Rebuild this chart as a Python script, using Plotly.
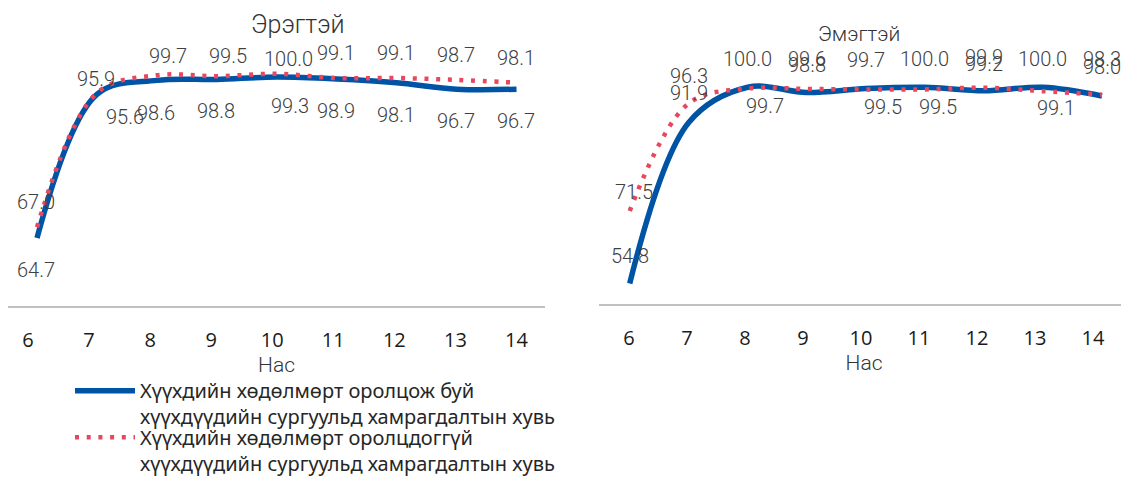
import plotly.graph_objects as go

# ---- data ----
ages = [6, 7, 8, 9, 10, 11, 12, 13, 14]
male_working = [64.7, 95.6, 98.6, 98.8, 99.3, 98.9, 98.1, 96.7, 96.7]
male_not_working = [67.0, 95.9, 99.7, 99.5, 100.0, 99.1, 99.1, 98.7, 98.1]
female_working = [54.8, 91.9, 100.0, 98.8, 99.7, 100.0, 99.2, 100.0, 98.0]
female_not_working = [71.5, 96.3, 99.7, 99.6, 99.5, 99.5, 99.9, 99.1, 98.3]

name_working = "Хүүхдийн хөдөлмөрт оролцож буй<br>хүүхдүүдийн сургуульд хамрагдалтын хувь"
name_not_working = "Хүүхдийн хөдөлмөрт оролцдоггүй<br>хүүхдүүдийн сургуульд хамрагдалтын хувь"
title_male = "Эрэгтэй"
title_female = "Эмэгтэй"
x_title = "Нас"

# ---- label placement (screen px offsets: dx right, dy down) ----
male_working_off = [(-1, 32), (28, 23), (-1, 33), (-1, 32), (13, 29), (-1, 32), (-1, 32), (-1, 32), (-1, 32)]
male_not_working_off = [(-1, -25), (-1, -14), (11, -19), (11, -20), (12, -15), (-1, -25), (-1, -25), (-1, -25), (-1, -25)]
female_working_off = [(0, -27), (0, -29), (0, -28), (0, -27), (0, -29), (0, -28), (0, -27), (0, -28), (0, -29)]
female_not_working_off = [(4, -19), (0, -27), (17, 17), (0, -30), (17, 18), (13, 18), (0, -31), (13, 17), (0, -36)]

BLUE = "#0054A6"
RED = "#E8475D"
LABEL_FONT = dict(family="Roboto", size=20, color="#404040", weight=300)
TICK_FONT = dict(family="Open Sans", size=20, color="#1a1a1a")
# the page body keeps an 8px margin, so the figure is 8px smaller than the window
W, H = 1121, 475

fig = go.Figure()

def add_series(x, y, xa, ya, color, dash, width, name, legend, showlegend):
    fig.add_trace(go.Scatter(
        x=x, y=y, xaxis=xa, yaxis=ya, mode="lines", name=name, legend=legend,
        line=dict(color=color, width=width, dash=dash, shape="spline", smoothing=1.0),
        showlegend=showlegend, hoverinfo="skip"))

add_series(ages, male_working, "x", "y", BLUE, "solid", 5.5, name_working, "legend", True)
add_series(ages, male_not_working, "x", "y", RED, "4px,7.7px", 4.5, name_not_working, "legend2", True)
add_series(ages, female_working, "x2", "y2", BLUE, "solid", 5.5, name_working, "legend", False)
add_series(ages, female_not_working, "x2", "y2", RED, "4px,7.7px", 4.5, name_not_working, "legend2", False)

# empty traces that carry the category tick axes
for xa, ya in (("x3", "y"), ("x4", "y2")):
    fig.add_trace(go.Scatter(x=[], y=[], xaxis=xa, yaxis=ya, mode="lines",
                             showlegend=False, hoverinfo="skip"))

annotations = []
def add_labels(x, y, offs, xref, yref):
    for xi, yi, (dx, dy) in zip(x, y, offs):
        annotations.append(dict(x=xi, y=yi, xref=xref, yref=yref, text=f"{yi:.1f}",
                                showarrow=False, xshift=dx, yshift=-dy,
                                xanchor="center", yanchor="middle", font=LABEL_FONT))

add_labels(ages, male_working, male_working_off, "x", "y")
add_labels(ages, male_not_working, male_not_working_off, "x", "y")
add_labels(ages, female_working, female_working_off, "x2", "y2")
add_labels(ages, female_not_working, female_not_working_off, "x2", "y2")

annotations.append(dict(text=title_male, x=290 / W, y=1 - 17 / H, xref="paper", yref="paper",
                        showarrow=False, xanchor="center", yanchor="middle",
                        font=dict(family="Roboto", size=25, color="#333333", weight=300)))
annotations.append(dict(text=title_female, x=851 / W, y=1 - 27 / H, xref="paper", yref="paper",
                        showarrow=False, xanchor="center", yanchor="middle",
                        font=dict(family="Roboto", size=21, color="#333333", weight=300)))

def data_xaxis(domain, rng, anchor):
    return dict(domain=domain, range=rng, anchor=anchor, showticklabels=False, ticks="",
                showline=True, linecolor="#c0c0c0", linewidth=1.5,
                showgrid=False, zeroline=False)

def tick_xaxis(domain, rng, anchor, overlay):
    return dict(domain=domain, range=rng, anchor=anchor, overlaying=overlay, side="bottom",
                tickmode="array", tickvals=ages, ticktext=[str(a) for a in ages],
                showline=False, ticks="outside", ticklen=16, tickcolor="rgba(0,0,0,0)",
                tickfont=TICK_FONT, showgrid=False, zeroline=False,
                title=dict(text=x_title, standoff=4,
                           font=dict(family="Roboto", size=21, color="#333333", weight=300)))

def yaxis(domain, anchor):
    return dict(domain=domain, range=[50, 110], visible=False, anchor=anchor)

LEG_FONT = dict(family="Noto Sans", size=20, color="#262626")

fig.update_layout(
    width=W, height=H, margin=dict(l=0, r=0, t=0, b=0),
    paper_bgcolor="white", plot_bgcolor="white",
    xaxis=data_xaxis((0, 537 / W), [5.516, 14.475], "y"),
    xaxis2=data_xaxis((591 / W, 1.0), [5.480, 14.457], "y2"),
    xaxis3=tick_xaxis((0, 537 / W), [5.672, 14.467], "y", "x"),
    xaxis4=tick_xaxis((591 / W, 1.0), [5.483, 14.621], "y2", "x2"),
    yaxis=yaxis((1 - 308 / H, 1 - 20 / H), "x"),
    yaxis2=yaxis((1 - 306 / H, 1 - 37 / H), "x2"),
    annotations=annotations,
    legend=dict(x=62 / W, y=1 - 375 / H, xanchor="left", yanchor="top", font=LEG_FONT,
                valign="top", itemwidth=60, bgcolor="rgba(0,0,0,0)"),
    legend2=dict(x=62 / W, y=1 - 423 / H, xanchor="left", yanchor="top", font=LEG_FONT,
                 valign="top", itemwidth=60, bgcolor="rgba(0,0,0,0)"),
    showlegend=True,
)

fig.write_html("out.html")
